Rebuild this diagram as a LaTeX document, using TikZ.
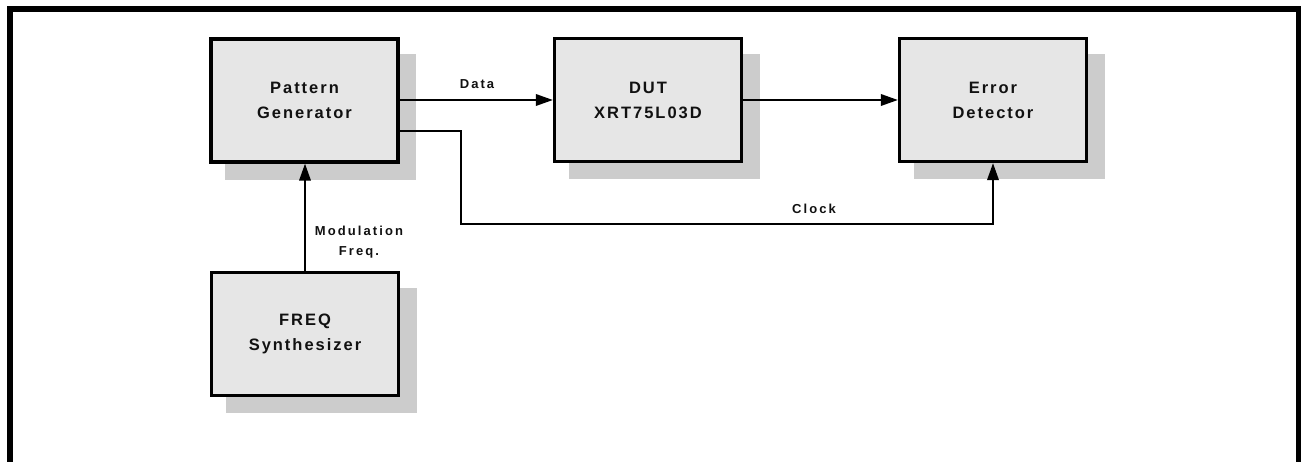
\documentclass[tikz,border=0pt]{standalone}
\usepackage{fontspec}
\setmainfont{Liberation Sans}
\newfontfamily\bxf{Liberation Sans}[LetterSpace=12]
\newfontfamily\lbf{Liberation Sans}[LetterSpace=16]
\usetikzlibrary{arrows.meta,shadows}
\definecolor{boxfill}{HTML}{E6E6E6}
\definecolor{shadowgray}{HTML}{CCCCCC}
\definecolor{txt}{HTML}{111111}
\tikzset{
  blockbox/.style={draw=black, line width=3.3pt, fill=boxfill,
    minimum width=187pt, minimum height=123pt, inner sep=0pt,
    align=center, text=txt,
    font={\bxf\bfseries\fontsize{16.5}{25}\selectfont},
    general shadow={fill=shadowgray, shadow xshift=16pt, shadow yshift=-16pt, shadow scale=1.02}},
  conn/.style={line width=2pt, -{Triangle[length=17pt,width=11.5pt]}},
  lbl/.style={text=txt, align=center, inner sep=0pt,
    font={\lbf\bfseries\fontsize{13}{20}\selectfont}},
  frameline/.style={line width=6pt}
}
\begin{document}
\begin{tikzpicture}[x=1pt,y=-1pt]
\useasboundingbox (0,0) rectangle (1301,462);
\fill[white] (0,0) rectangle (1301,462);
\draw[frameline] (10,480) -- (10,9) -- (1299,9) -- (1299,480);

\node[blockbox] (pg) at (304.5,100.5) {Pattern\\Generator};
\node[blockbox] (dut) at (648,100) {DUT\\XRT75L03D};
\node[blockbox] (ed) at (993,100) {Error\\Detector};
\node[blockbox] (fs) at (305,334) {FREQ\\Synthesizer};

\coordinate (c1) at (461,131);
\coordinate (c2) at (461,224);
\coordinate (c3) at (993,224);

\draw[conn] (pg.east |- 0,100) -- (dut.west |- 0,100);
\draw[conn] (dut.east |- 0,100) -- (ed.west |- 0,100);
\draw[conn] (pg.east |- c1) -- (c1) -- (c2) -- (c3) -- (ed.south);
\draw[conn] (fs.north) -- (pg.south -| fs.north);

\node[lbl] (ldata) at (477,84) {Data};
\node[lbl] (lclock) at (814,209) {Clock};
\node[lbl] (lmod) at (359,242) {Modulation\\Freq.};
\end{tikzpicture}
\end{document}
